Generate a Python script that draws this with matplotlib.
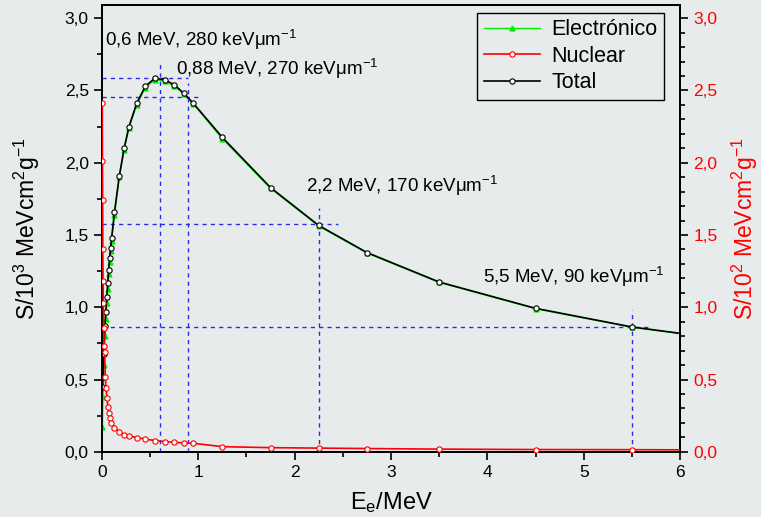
import matplotlib
matplotlib.use("Agg")
import matplotlib.pyplot as plt
from matplotlib.ticker import MultipleLocator, FuncFormatter

plt.rcParams['font.family'] = ['Liberation Sans', 'DejaVu Sans']
plt.rcParams['mathtext.fontset'] = 'custom'
plt.rcParams['mathtext.rm'] = 'Liberation Sans'
plt.rcParams['mathtext.it'] = 'Liberation Sans:italic'
plt.rcParams['mathtext.default'] = 'regular'

# electron energy (MeV) for total / electronic stopping power
energy = [0.005, 0.01, 0.02, 0.03, 0.04, 0.05, 0.06, 0.07, 0.08, 0.09, 0.10,
          0.13, 0.18, 0.23, 0.28, 0.36, 0.45, 0.55, 0.65, 0.75, 0.85, 0.95,
          1.25, 1.75, 2.25, 2.75, 3.5, 4.5, 5.5, 6.0]
# S / 10^3 MeV cm^2 g^-1
s_total = [0.45, 0.52, 0.68, 0.87, 0.97, 1.07, 1.17, 1.26, 1.34, 1.41, 1.48,
           1.66, 1.91, 2.10, 2.25, 2.41, 2.53, 2.584, 2.574, 2.54, 2.48, 2.41,
           2.175, 1.828, 1.566, 1.379, 1.175, 0.993, 0.864, 0.82]
s_elec = [0.17, 0.38, 0.60, 0.80, 0.92, 1.03, 1.13, 1.23, 1.31, 1.39, 1.46,
          1.64, 1.90, 2.09, 2.24, 2.40, 2.52, 2.575, 2.565, 2.53, 2.475, 2.405,
          2.165, 1.822, 1.562, 1.375, 1.172, 0.99, 0.862, 0.818]

# nuclear stopping power, S / 10^2 MeV cm^2 g^-1
energy_nuc = [0.003, 0.005, 0.007, 0.009, 0.011, 0.014, 0.018, 0.024, 0.028,
              0.034, 0.042, 0.052, 0.062, 0.072, 0.083, 0.096, 0.13, 0.18,
              0.23, 0.28, 0.36, 0.45, 0.55, 0.65, 0.75, 0.85, 0.95, 1.25,
              1.75, 2.25, 2.75, 3.5, 4.5, 5.5, 6.0]
s_nuc = [2.41, 2.01, 1.74, 1.40, 1.18, 1.03, 0.86, 0.73, 0.69, 0.52, 0.44,
         0.37, 0.31, 0.267, 0.232, 0.20, 0.165, 0.14, 0.12, 0.11, 0.099, 0.088,
         0.078, 0.071, 0.066, 0.062, 0.059, 0.036, 0.029, 0.026, 0.023, 0.019,
         0.016, 0.015, 0.014]

# marked points (MeV, S/10^3) and their labels
mark_energy = [0.6, 0.89, 2.25, 5.5]
mark_s = [2.584, 2.455, 1.575, 0.865]
mark_text = ["0,6 MeV, 280 keVμm$^{-1}$", "0,88 MeV, 270 keVμm$^{-1}$",
             "2,2 MeV, 170 keVμm$^{-1}$", "5,5 MeV, 90 keVμm$^{-1}$"]

bg = '#e8ebec'
comma = FuncFormatter(lambda v, p: f"{v:.1f}".replace('.', ','))

fig = plt.figure(figsize=(7.61, 5.17), dpi=100, facecolor=bg)
ax = fig.add_axes([0.134, 0.126, 0.7596, 0.864], facecolor=bg)
ax2 = ax.twinx()

# guide lines
guide = dict(color='#2a2aee', lw=1.0, ls=(0, (3, 3)), zorder=1)
h_end = [0.89, 1.0, 2.45, 5.69]
v_top = [2.70, 2.55, 1.69, 0.98]
for e, s, he, vt in zip(mark_energy, mark_s, h_end, v_top):
    ax.plot([0, he], [s, s], **guide)
    ax.plot([e, e], [0, vt], **guide)

ax.plot(energy, s_elec, color='#00ee00', lw=1.0, marker='^', ms=3.5,
        markevery=slice(0, -1), label='Electrónico', zorder=3)
ax.plot(energy, s_total, color='black', lw=1.2, marker='o', ms=3.8,
        mfc='white', mec='black', mew=0.8, markevery=slice(0, -1),
        label='Total', zorder=4)
ax2.plot(energy_nuc, s_nuc, color='red', lw=1.2, marker='o', ms=3.8,
         mfc='white', mec='red', mew=0.8, markevery=slice(0, -1),
         label='Nuclear', zorder=3)

tx = [0.03, 0.77, 2.12, 3.95]
ty = [2.81, 2.61, 1.795, 1.168]
for t, x, y in zip(mark_text, tx, ty):
    ax.text(x, y, t, fontsize=13.5, va='baseline', ha='left')

ax.set_xlim(0, 6)
ax.set_ylim(0, 3.09)
ax2.set_ylim(0, 3.09)

ax.xaxis.set_major_locator(MultipleLocator(1))
ax.xaxis.set_minor_locator(MultipleLocator(0.5))
ax.yaxis.set_major_locator(MultipleLocator(0.5))
ax.yaxis.set_minor_locator(MultipleLocator(0.25))
ax2.yaxis.set_major_locator(MultipleLocator(0.5))
ax2.yaxis.set_minor_locator(MultipleLocator(0.1))
ax.yaxis.set_major_formatter(comma)
ax2.yaxis.set_major_formatter(comma)

ax.tick_params(which='both', direction='out', labelsize=12.5, top=False,
               right=False, width=1.2)
ax.tick_params(which='major', length=6)
ax.tick_params(which='minor', length=3.5)
ax2.tick_params(which='both', direction='out', labelsize=12.5,
                labelcolor='red', width=1.2)
ax2.tick_params(which='major', length=6)
ax2.tick_params(which='minor', length=3.5)
for a in (ax, ax2):
    for sp in a.spines.values():
        sp.set_linewidth(1.3)

ax.set_xlabel("E$_e$/MeV", fontsize=17, labelpad=7)
ax.set_ylabel("S/10$^3$ MeVcm$^2$g$^{-1}$", fontsize=16.5, labelpad=16)
ax2.set_ylabel("S/10$^2$ MeVcm$^2$g$^{-1}$", fontsize=16.5, color='red',
               labelpad=9)

h1, l1 = ax.get_legend_handles_labels()
h2, l2 = ax2.get_legend_handles_labels()
handles = [h1[0], h2[0], h1[1]]
labels = [l1[0], l2[0], l1[1]]
leg = fig.legend(handles, labels, loc='upper right',
                 bbox_to_anchor=(664 / 761, 1 - 13 / 517), fontsize=15.5,
                 fancybox=False, edgecolor='black', facecolor=bg,
                 framealpha=1, borderaxespad=0, handlelength=2.6,
                 labelspacing=0.25, borderpad=0.3, handletextpad=0.55)
leg.get_frame().set_linewidth(1.0)

fig.savefig("out.png", dpi=100, facecolor=bg)
